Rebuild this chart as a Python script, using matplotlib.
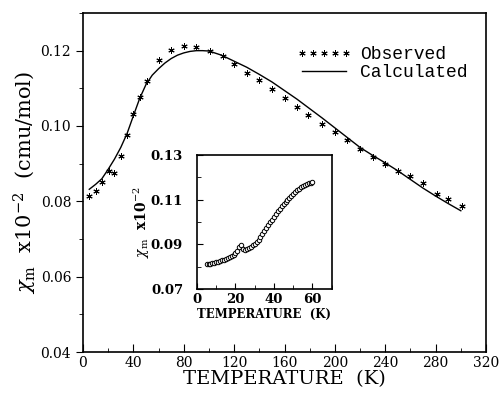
import matplotlib
matplotlib.use("Agg")
import matplotlib.pyplot as plt
from matplotlib.ticker import MultipleLocator, FormatStrFormatter

# observed susceptibility (asterisks)
t_obs = [5, 10, 15, 21, 25, 30, 35, 40, 45, 51, 60, 70, 80, 90, 101, 111, 120, 130, 140,
         150, 160, 170, 179, 190, 200, 210, 220, 230, 240, 250, 260, 270, 281, 290, 301]
chi_obs = [0.0815, 0.0828, 0.0850, 0.0881, 0.0876, 0.0920, 0.0975, 0.1031, 0.1076, 0.1119,
           0.1176, 0.1202, 0.1213, 0.1211, 0.1198, 0.1185, 0.1165, 0.1142, 0.1121,
           0.1097, 0.1073, 0.1050, 0.1028, 0.1006, 0.0985, 0.0962, 0.0940, 0.0919, 0.0899,
           0.0881, 0.0866, 0.0848, 0.0819, 0.0805, 0.0788]

# calculated curve
t_calc = [5, 10, 15, 20, 25, 30, 35, 40, 45, 50, 55, 60, 65, 70, 75, 80, 85, 90, 95, 100,
          110, 120, 130, 140, 150, 160, 170, 180, 190, 200, 210, 220, 230, 240, 250, 260,
          270, 280, 290, 300]
chi_calc = [0.0832, 0.0845, 0.0860, 0.0885, 0.0912, 0.0943, 0.0980, 0.1027, 0.1073, 0.1110,
            0.1135, 0.1152, 0.1167, 0.1179, 0.1188, 0.1194, 0.1198, 0.1200, 0.1200, 0.1199,
            0.1188, 0.1172, 0.1156, 0.1137, 0.1117, 0.1094, 0.1071, 0.1046, 0.1021, 0.0995,
            0.0969, 0.0943, 0.0922, 0.0902, 0.0881, 0.0858, 0.0835, 0.0814, 0.0794, 0.0775]

# low temperature inset (open circles)
t_low = list(range(5, 61))
chi_low = [0.0812, 0.0811, 0.0813, 0.0815, 0.0817, 0.0819, 0.0822, 0.0825, 0.0828, 0.0831,
           0.0835, 0.0839, 0.0843, 0.0848, 0.0854, 0.0861, 0.0870, 0.0889, 0.0895, 0.0880,
           0.0876, 0.0879, 0.0884, 0.0889, 0.0895, 0.0902, 0.0910, 0.0920, 0.0932, 0.0945,
           0.0958, 0.0971, 0.0985, 0.0998, 0.1011, 0.1024, 0.1036, 0.1048, 0.1059, 0.1070,
           0.1080, 0.1090, 0.1100, 0.1109, 0.1118, 0.1127, 0.1135, 0.1142, 0.1149, 0.1155,
           0.1160, 0.1165, 0.1169, 0.1173, 0.1176, 0.1179]
inset_yticks = [0.07, 0.09, 0.11, 0.13]
inset_yminor = [0.08, 0.10, 0.12]

plt.rcParams['font.family'] = 'DejaVu Serif'
plt.rcParams['mathtext.fontset'] = 'dejavuserif'

fig = plt.figure(figsize=(4.99, 3.96), dpi=100)
ax = fig.add_axes([0.1663, 0.1111, 0.8077, 0.8561])

ax.plot(t_obs, chi_obs, linestyle='none', marker=(6, 2, 0), markersize=4.5,
        markeredgewidth=0.7, color='black', label='Observed')
ax.plot(t_calc, chi_calc, color='black', linewidth=1.0, label='Calculated')

ax.set_xlim(0, 320)
ax.set_ylim(0.04, 0.13)
ax.xaxis.set_major_locator(MultipleLocator(40))
ax.xaxis.set_minor_locator(MultipleLocator(20))
ax.yaxis.set_major_locator(MultipleLocator(0.02))
ax.yaxis.set_minor_locator(MultipleLocator(0.01))
ax.yaxis.set_major_formatter(FormatStrFormatter('%.2f'))
ax.tick_params(axis='x', which='both', direction='in', labelsize=10, pad=3)
ax.tick_params(axis='x', which='major', length=6)
ax.tick_params(axis='x', which='minor', length=3)
ax.tick_params(axis='y', which='both', direction='out', labelsize=10)
ax.tick_params(axis='y', which='major', length=5)
ax.tick_params(axis='y', which='minor', length=3)
for s in ax.spines.values():
    s.set_linewidth(1.2)

ax.set_xlabel('TEMPERATURE  (K)', fontsize=14, labelpad=0)
ax.set_ylabel(r'$\chi_{\rm m}$  x10$^{-2}$  (cmu/mol)', fontsize=15, labelpad=1)

leg = ax.legend(loc='upper right', bbox_to_anchor=(0.995, 0.95), frameon=False,
                numpoints=5, handlelength=3.0, handletextpad=0.5, labelspacing=0.05,
                prop={'family': 'Liberation Mono', 'size': 13})

# inset
ins = fig.add_axes([0.3948, 0.2702, 0.2699, 0.3384])
ins.plot(t_low, chi_low, linestyle='none', marker='o', markersize=3.2,
         markerfacecolor='white', markeredgecolor='black', markeredgewidth=0.7)
ins.set_xlim(0, 70)
ins.set_ylim(0.07, 0.13)
ins.xaxis.set_major_locator(MultipleLocator(20))
ins.xaxis.set_minor_locator(MultipleLocator(10))
ins.set_yticks(inset_yticks)
ins.set_yticks(inset_yminor, minor=True)
ins.yaxis.set_major_formatter(FormatStrFormatter('%.2f'))
ins.tick_params(axis='both', which='both', direction='in', labelsize=9.5)
ins.tick_params(axis='x', which='major', pad=3)
ins.tick_params(axis='y', which='major', pad=10)
ins.tick_params(axis='both', which='major', length=4)
ins.tick_params(axis='both', which='minor', length=3)
for lab in ins.get_xticklabels() + ins.get_yticklabels():
    lab.set_fontweight('bold')
for s in ins.spines.values():
    s.set_linewidth(1.2)
ins.set_xlabel('TEMPERATURE  (K)', fontsize=8.5, fontweight='bold', labelpad=1)
ins.set_ylabel(r'$\chi_{\rm m}$  x10$^{-2}$', fontsize=10, fontweight='bold', labelpad=-1)

fig.savefig('out.png', dpi=100)
